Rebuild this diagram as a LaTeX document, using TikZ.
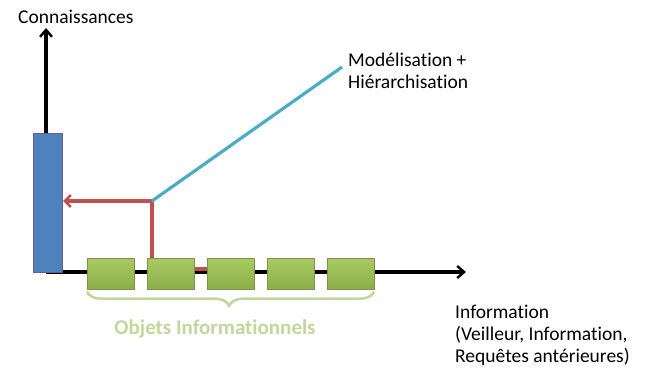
\documentclass[tikz,border=0pt]{standalone}
\usepackage{fontspec}
\setmainfont{Carlito}[Ligatures=CommonOff]
\usetikzlibrary{arrows.meta,decorations.pathreplacing}
\definecolor{barblue}{HTML}{4F81BD}
\definecolor{barborder}{HTML}{6A5A9A}
\definecolor{boxgreen}{HTML}{9BBB59}
\definecolor{boxgreentop}{HTML}{A9CA62}
\definecolor{boxgreenbot}{HTML}{8AAE48}
\definecolor{bracegreen}{HTML}{C3D69B}
\definecolor{linkred}{HTML}{C0504D}
\definecolor{linkcyan}{HTML}{4BACC6}
\tikzset{
  axis/.style={line width=3.2pt,-{Straight Barb[length=7pt,width=12pt,line width=2.4pt]}},
  objbox/.style={draw=boxgreen!80!black,line width=0.3pt,top color=boxgreentop,bottom color=boxgreenbot,minimum width=47pt,minimum height=31pt,inner sep=0pt},
  lbl/.style={font=\fontsize{19.5}{22}\selectfont,inner sep=0pt,align=left},
  redlink/.style={draw=linkred,line width=3.2pt},
}
\begin{document}
\begin{tikzpicture}[x=1pt,y=-1pt]
\useasboundingbox (0,0) rectangle (653,368);
% axes
\coordinate (origin) at (46,272);
\coordinate (ytip) at (46,28);
\coordinate (xtip) at (466,272);
\draw[axis] (origin) -- (ytip);
\draw[axis] (origin) -- (xtip);
% red connector (behind boxes)
\coordinate (redstart) at (230,269);
\coordinate (corner) at (152,269);
\coordinate (joint) at (152,201);
% blue bar
\node[draw=barborder,fill=barblue,line width=1.2pt,minimum width=29pt,minimum height=139pt,inner sep=0pt,anchor=north west] (bar) at (33,133) {};
\draw[redlink] (redstart) -- (corner) -- (joint);
\draw[redlink,-{Straight Barb[length=6pt,width=12pt,line width=2.4pt]}] (joint) -- (bar.east |- joint);
% green boxes
\foreach \i/\x in {1/110.5,2/170.5,3/230.5,4/290.5,5/350.5}{
  \node[objbox] (b\i) at (\x,274) {};
}
% cyan connector
\coordinate (cyanend) at (342,67);
\draw[linkcyan,line width=3.2pt] (joint) -- (cyanend);
% brace
\draw[bracegreen,line width=2.6pt,decorate,decoration={brace,mirror,amplitude=14pt,aspect=0.495}] ([yshift=-2pt]b1.south west) -- ([yshift=-2pt]b5.south east);
% labels
\node[lbl,anchor=base west] (conn) at (18,23) {Connaissances};
\node[lbl,anchor=base west] (model) at (348,88) {Modélisation +\\Hiérarchisation};
\node[lbl,anchor=base west] (info) at (455,362) {Information\\(Veilleur, Information,\\Requêtes antérieures)};
\node[lbl,anchor=base,text=bracegreen,font=\bfseries\fontsize{21}{22}\selectfont] (obj) at (215,334) {Objets Informationnels};
\end{tikzpicture}
\end{document}
